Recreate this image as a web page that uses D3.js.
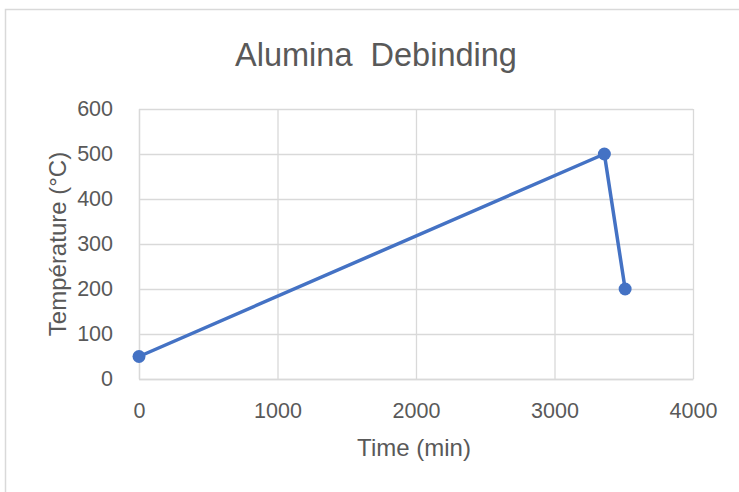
<!DOCTYPE html>
<html>
<head>
<meta charset="utf-8">
<script src="https://cdn.jsdelivr.net/npm/d3@7"></script>
<style>
  body { margin: 0; background: #fff; }
  text { font-family: "Liberation Sans", Arial, sans-serif; fill: #595959; }
</style>
</head>
<body>
<div id="vis"></div>
<script>
// data
const timeMin = [0, 3360, 3510];
const tempC = [50, 500, 200];
const xTicks = [0, 1000, 2000, 3000, 4000];
const yTicks = [0, 100, 200, 300, 400, 500, 600];

const W = 739, H = 492;
const margin = {top: 109, right: 46, bottom: 113, left: 139};
const width = W - margin.left - margin.right;
const height = H - margin.top - margin.bottom;

const svg = d3.select("#vis")
  .append("svg")
    .attr("width", W)
    .attr("height", H);

// chart frame (runs off the right/bottom of the picture)
svg.append("rect")
  .attr("x", 5.5)
  .attr("y", 9.5)
  .attr("width", W + 10)
  .attr("height", H + 10)
  .attr("fill", "none")
  .attr("stroke", "#d9d9d9")
  .attr("stroke-width", 1.5);

svg.append("text")
  .attr("x", 376)
  .attr("y", 66)
  .attr("text-anchor", "middle")
  .attr("xml:space", "preserve")
  .style("font-size", "32.5px")
  .text("Alumina  Debinding");

const g = svg.append("g")
  .attr("transform", `translate(${margin.left},${margin.top})`);

const x = d3.scaleLinear().domain([0, 4000]).range([0, width]);
const y = d3.scaleLinear().domain([0, 600]).range([height, 0]);

// gridlines
g.append("g")
  .call(d3.axisLeft(y).tickValues(yTicks).tickSize(-width).tickFormat(""))
  .call(a => a.select(".domain").remove())
  .selectAll("line").attr("stroke", "#d9d9d9").attr("stroke-width", 1.3);
g.append("g")
  .attr("transform", `translate(0,${height})`)
  .call(d3.axisBottom(x).tickValues(xTicks).tickSize(-height).tickFormat(""))
  .call(a => a.select(".domain").remove())
  .selectAll("line").attr("stroke", "#d9d9d9").attr("stroke-width", 1.3);

// tick labels
const xAxis = g.append("g")
  .attr("transform", `translate(0,${height})`)
  .call(d3.axisBottom(x).tickValues(xTicks).tickSize(0).tickPadding(24).tickFormat(d3.format("d")));
xAxis.select(".domain").attr("stroke", "#d9d9d9").attr("stroke-width", 1.3);
xAxis.selectAll("text").style("font-size", "21.5px").attr("fill", "#595959");

const yAxis = g.append("g")
  .call(d3.axisLeft(y).tickValues(yTicks).tickSize(0).tickPadding(26).tickFormat(d3.format("d")));
yAxis.select(".domain").attr("stroke", "#d9d9d9").attr("stroke-width", 1.3);
yAxis.selectAll("text").style("font-size", "21.5px").attr("fill", "#595959");

// axis titles
svg.append("text")
  .attr("x", 414)
  .attr("y", 456)
  .attr("text-anchor", "middle")
  .style("font-size", "24px")
  .text("Time (min)");

svg.append("text")
  .attr("transform", `translate(66,${margin.top + height / 2}) rotate(-90)`)
  .attr("text-anchor", "middle")
  .style("font-size", "24px")
  .text("Température (°C)");

// series
const pts = timeMin.map((t, i) => ({t: t, v: tempC[i]}));
const line = d3.line().x(d => x(d.t)).y(d => y(d.v));

g.append("path")
  .datum(pts)
  .attr("d", line)
  .attr("fill", "none")
  .attr("stroke", "#4472c4")
  .attr("stroke-width", 3.5)
  .attr("stroke-linejoin", "round");

g.selectAll("circle")
  .data(pts)
  .join("circle")
    .attr("cx", d => x(d.t))
    .attr("cy", d => y(d.v))
    .attr("r", 6.5)
    .attr("fill", "#4472c4");
</script>
</body>
</html>
